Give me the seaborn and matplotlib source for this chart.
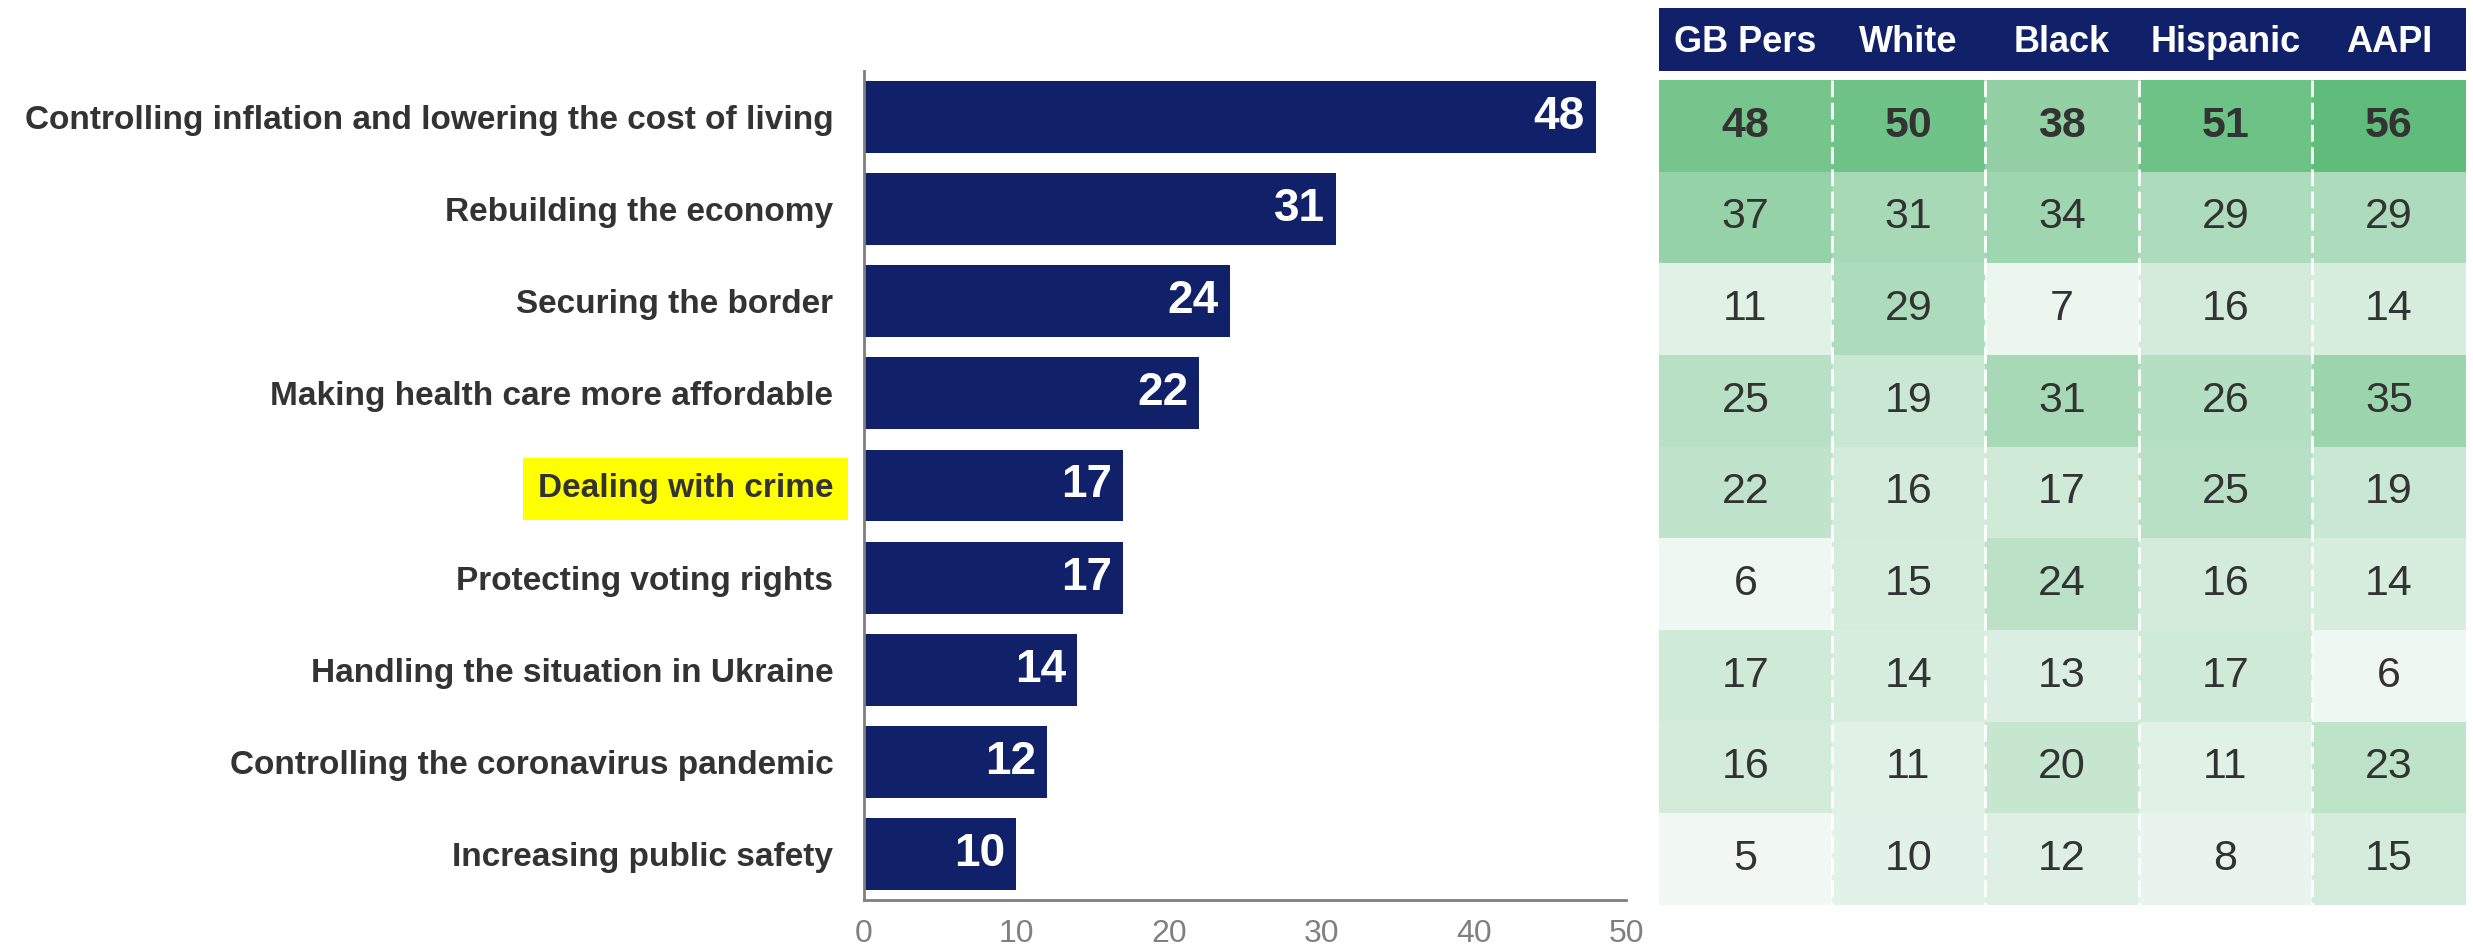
import numpy as np
import pandas as pd
import seaborn as sns
import matplotlib.pyplot as plt
from matplotlib.colors import LinearSegmentedColormap

# issues and overall share picking them
categories = [
    "Controlling inflation and lowering the cost of living",
    "Rebuilding the economy",
    "Securing the border",
    "Making health care more affordable",
    "Dealing with crime",
    "Protecting voting rights",
    "Handling the situation in Ukraine",
    "Controlling the coronavirus pandemic",
    "Increasing public safety",
]
overall = [48, 31, 24, 22, 17, 17, 14, 12, 10]
highlight = "Dealing with crime"

# breakdown table
groups = ["GB Pers", "White", "Black", "Hispanic", "AAPI"]
gb_pers = [48, 37, 11, 25, 22, 6, 17, 16, 5]
white = [50, 31, 29, 19, 16, 15, 14, 11, 10]
black = [38, 34, 7, 31, 17, 24, 13, 20, 12]
hispanic = [51, 29, 16, 26, 25, 16, 17, 11, 8]
aapi = [56, 29, 14, 35, 19, 14, 6, 23, 15]

navy = "#10216a"
text_dark = "#333333"

sns.set_style("white")
plt.rcParams['font.family'] = ['Liberation Sans', 'DejaVu Sans']

W, H = 2473, 951
fig = plt.figure(figsize=(W / 100, H / 100), dpi=100)

# ---- left: bar chart ----
ax = fig.add_axes([864 / W, 1 - 900 / H, 762 / W, 829 / H])
df_bars = pd.DataFrame({'issue': categories, 'pct': overall})
sns.barplot(data=df_bars, x='pct', y='issue', orient='h', color=navy,
            saturation=1, width=0.78, linewidth=0, ax=ax)
ax.set_xlim(0, 49.6)
ax.set_xticks([0, 10, 20, 30, 40, 50])
ax.set_xlabel("")
ax.set_ylabel("")
ax.tick_params(axis='x', length=0, pad=14, labelsize=23, labelcolor="#808080")
ax.tick_params(axis='y', length=0, pad=22)
for lab in ax.get_yticklabels():
    lab.set_fontsize(24)
    lab.set_fontweight('bold')
    lab.set_color(text_dark)
    if lab.get_text() == highlight:
        lab.set_bbox(dict(boxstyle='square,pad=0.45', fc='#ffff00', ec='none'))
for s in ['top', 'right']:
    ax.spines[s].set_visible(False)
for s in ['left', 'bottom']:
    ax.spines[s].set_color("#7f7f7f")
    ax.spines[s].set_linewidth(2)
ax.spines['bottom'].set_bounds(0, 50)

for i, v in enumerate(overall):
    ax.annotate(str(v), (v, i), xytext=(-8, 0), textcoords='offset points',
                ha='right', va='center', color='white', fontsize=33, fontweight='bold')

# ---- right: heatmap table ----
# GB Pers and Hispanic columns are a bit wider than the others
col_px = np.array([0, 173, 326, 480, 653, 807])
col_idx = np.arange(len(col_px))


def fwd(x):
    return np.interp(x, col_idx, col_px)


def inv(x):
    return np.interp(x, col_px, col_idx)


table = pd.DataFrame({'GB Pers': gb_pers, 'White': white, 'Black': black,
                      'Hispanic': hispanic, 'AAPI': aapi}, index=categories)[groups]
cmap = LinearSegmentedColormap.from_list('greens_soft', ['#f1f8f4', '#5fbc7a'])

hax = fig.add_axes([1659 / W, 1 - 905 / H, 807 / W, 825 / H])
sns.heatmap(table, ax=hax, cmap=cmap, vmin=5, vmax=56, cbar=False,
            annot=True, fmt='d', annot_kws={'fontsize': 31, 'color': text_dark},
            xticklabels=False, yticklabels=False, linewidths=0)
hax.set_xscale('function', functions=(fwd, inv))
hax.set_xlim(0, len(groups))
hax.set_ylim(len(categories), 0)
hax.set_xticks([])
hax.set_yticks([])
hax.set_xlabel("")
hax.set_ylabel("")
for t in hax.texts:
    x, y = t.get_position()
    if y < 1:
        t.set_fontweight('bold')
hax.vlines(np.arange(1, len(groups)), 0, len(categories), colors='white',
           linestyles=(0, (6, 2)), linewidth=2)

# header band
head = fig.add_axes([1659 / W, 1 - 71 / H, 807 / W, 63 / H])
head.set_facecolor(navy)
head.set_xscale('function', functions=(fwd, inv))
head.set_xlim(0, len(groups))
head.set_ylim(0, 1)
head.set_xticks([])
head.set_yticks([])
for s in head.spines.values():
    s.set_visible(False)
for j, g in enumerate(groups):
    head.text(j + 0.5, 0.45, g, ha='center', va='center', color='white',
              fontsize=26, fontweight='bold')

plt.savefig("out.png", dpi=100)
